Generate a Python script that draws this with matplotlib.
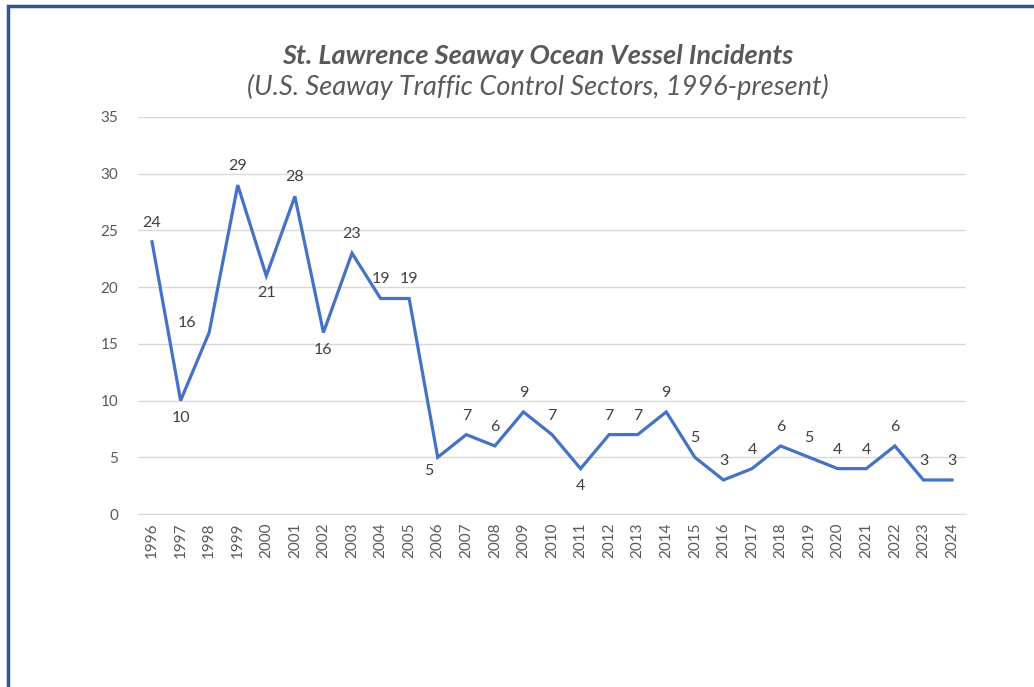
import matplotlib
matplotlib.use('Agg')

import matplotlib.pyplot as plt
from matplotlib.patches import Rectangle

# data
years = [str(y) for y in range(1996, 2025)]
incidents = [24, 10, 16, 29, 21, 28, 16, 23, 19, 19, 5, 7, 6, 9, 7, 4, 7, 7, 9,
             5, 3, 4, 6, 5, 4, 4, 6, 3, 3]
# where Excel put each data label: a=above, b=below, l=left-above, bl=below-left
label_pos = ['a', 'b', 'l', 'a', 'b', 'a', 'b', 'a', 'a', 'a', 'bl', 'a', 'a', 'a',
             'a', 'b', 'a', 'a', 'a', 'a', 'a', 'a', 'a', 'a', 'a', 'a', 'a', 'a', 'a']

TITLE = "St. Lawrence Seaway Ocean Vessel Incidents"
SUBTITLE = "(U.S. Seaway Traffic Control Sectors, 1996-present)"

GRAY = '#595959'
LINE = '#4472C4'

plt.rcParams['font.family'] = ['Lato', 'DejaVu Sans']

fig = plt.figure(figsize=(10.34, 6.87), dpi=100)
ax = fig.add_axes([0.1332, 0.2518, 0.8013, 0.5779])

x = list(range(len(years)))
ax.plot(x, incidents, color=LINE, linewidth=2.3, solid_joinstyle='miter')

offsets = {'a': (0, 19), 'b': (0, -17), 'l': (-22, 10), 'bl': (-9, -14)}
for xi, v, p in zip(x, incidents, label_pos):
    dx, dy = offsets[p]
    ax.annotate(str(v), (xi, v), xytext=(dx, dy), textcoords='offset pixels',
                ha='center', va='center', fontsize=11.5, color='#404040')

ax.set_xlim(-0.5, len(years) - 0.5)
ax.set_ylim(0, 35)
ax.set_yticks(range(0, 36, 5))
ax.set_xticks(x)
ax.set_xticklabels(years, rotation=90)
ax.tick_params(axis='both', length=0, labelsize=11, labelcolor=GRAY)
ax.tick_params(axis='y', pad=14)
ax.tick_params(axis='x', pad=6)
ax.grid(axis='y', color='#D9D9D9', linewidth=1)
ax.set_axisbelow(True)
for s in ['top', 'right', 'left']:
    ax.spines[s].set_visible(False)
ax.spines['bottom'].set_color('#D9D9D9')

fig.text(0.52, 0.918, TITLE, ha='center', va='center', fontsize=19.5,
         fontweight='bold', fontstyle='italic', color=GRAY)
fig.text(0.52, 0.874, SUBTITLE, ha='center', va='center', fontsize=19.5,
         fontstyle='italic', color=GRAY)

# blue frame, only top and left edges show in the screenshot
fig.patches.append(Rectangle((7.5 / 1034, -0.1), 1.2, 1.1 - 5.5 / 687,
                             transform=fig.transFigure, fill=False,
                             edgecolor='#2F5597', linewidth=2.5))

plt.savefig('out.png', dpi=100)
